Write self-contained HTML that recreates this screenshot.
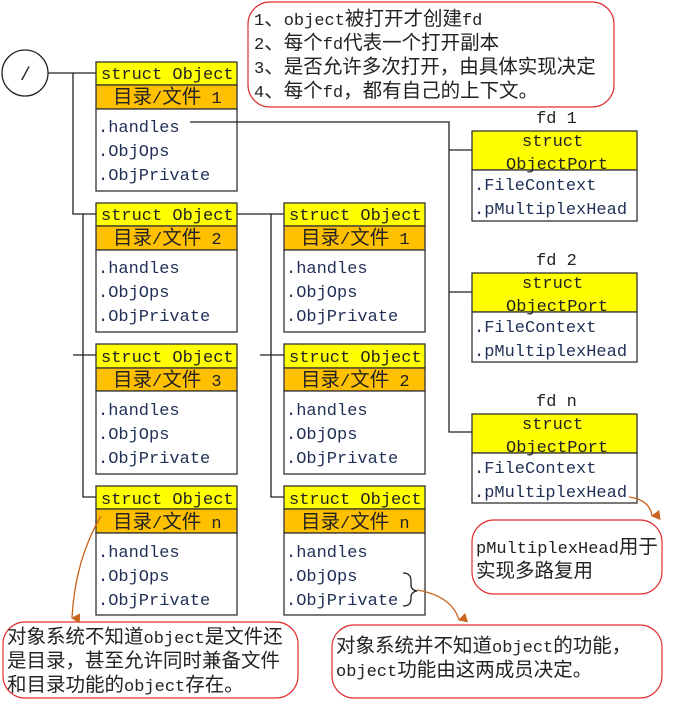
<!DOCTYPE html>
<html><head><meta charset="utf-8"><style>
body{margin:0;background:#fff}
svg text{font-family:"Liberation Mono","Noto Sans CJK SC",monospace;font-size:17px;fill:#222}
.b{fill:#1f2f55}
.z{font-size:19.5px}
.z tspan{font-size:17px}
</style></head><body>
<svg width="688" height="701" viewBox="0 0 688 701" xmlns="http://www.w3.org/2000/svg">
<defs>
<marker id="ar" markerWidth="10" markerHeight="10" refX="5" refY="8" orient="auto-start-reverse" markerUnits="userSpaceOnUse"><path d="M0,0 L10,0 L5,9 z" fill="#c8641e"/></marker>
</defs>
<g stroke="#222" stroke-width="1.3" fill="none">
<circle cx="25" cy="73" r="23"/>
<path d="M48,73 H96 M73,73 V214 H96 M83,214 V497 H96 M73,355 H96"/>
<path d="M237,214 H284 M271,214 V497 H284 M260,355 H284"/>
</g>
<text x="20" y="80" style="font-size:18px">/</text>

<g stroke="#333" stroke-width="1.3">
<rect x="96" y="62" width="141" height="23" fill="#ffff00"/><rect x="96" y="85" width="141" height="24" fill="#ffc000"/><rect x="96" y="109" width="141" height="82" fill="#fff"/>
<rect x="96" y="203" width="141" height="23" fill="#ffff00"/><rect x="96" y="226" width="141" height="24" fill="#ffc000"/><rect x="96" y="250" width="141" height="82" fill="#fff"/>
<rect x="96" y="344" width="141" height="24" fill="#ffff00"/><rect x="96" y="368" width="141" height="23" fill="#ffc000"/><rect x="96" y="391" width="141" height="83" fill="#fff"/>
<rect x="96" y="486" width="141" height="23" fill="#ffff00"/><rect x="96" y="509" width="141" height="24" fill="#ffc000"/><rect x="96" y="533" width="141" height="82" fill="#fff"/>
<rect x="284" y="203" width="141" height="23" fill="#ffff00"/><rect x="284" y="226" width="141" height="24" fill="#ffc000"/><rect x="284" y="250" width="141" height="82" fill="#fff"/>
<rect x="284" y="344" width="141" height="24" fill="#ffff00"/><rect x="284" y="368" width="141" height="23" fill="#ffc000"/><rect x="284" y="391" width="141" height="83" fill="#fff"/>
<rect x="284" y="486" width="141" height="23" fill="#ffff00"/><rect x="284" y="509" width="141" height="24" fill="#ffc000"/><rect x="284" y="533" width="141" height="82" fill="#fff"/>
<rect x="472" y="131" width="165" height="39" fill="#ffff00"/><rect x="472" y="170" width="165" height="51" fill="#fff"/>
<rect x="472" y="273" width="165" height="39" fill="#ffff00"/><rect x="472" y="312" width="165" height="50" fill="#fff"/>
<rect x="472" y="414" width="165" height="39" fill="#ffff00"/><rect x="472" y="453" width="165" height="50" fill="#fff"/>
</g>
<path d="M190,122 H449 V432 H472 M449,150 H472 M449,292 H472" stroke="#222" stroke-width="1.3" fill="none"/>

<g>
<text x="101" y="79">struct Object</text><text x="113" y="103" class="z">目录<tspan>/</tspan>文件<tspan> 1</tspan></text>
<text x="98" y="132" class="b">.handles</text><text x="98" y="156" class="b">.ObjOps</text><text x="98" y="180" class="b">.ObjPrivate</text>
<text x="101" y="220">struct Object</text><text x="113" y="244" class="z">目录<tspan>/</tspan>文件<tspan> 2</tspan></text>
<text x="98" y="273" class="b">.handles</text><text x="98" y="297" class="b">.ObjOps</text><text x="98" y="321" class="b">.ObjPrivate</text>
<text x="101" y="362">struct Object</text><text x="113" y="386" class="z">目录<tspan>/</tspan>文件<tspan> 3</tspan></text>
<text x="98" y="415" class="b">.handles</text><text x="98" y="439" class="b">.ObjOps</text><text x="98" y="463" class="b">.ObjPrivate</text>
<text x="101" y="504">struct Object</text><text x="113" y="528" class="z">目录<tspan>/</tspan>文件<tspan> n</tspan></text>
<text x="98" y="557" class="b">.handles</text><text x="98" y="581" class="b">.ObjOps</text><text x="98" y="605" class="b">.ObjPrivate</text>

<text x="289" y="220">struct Object</text><text x="301" y="244" class="z">目录<tspan>/</tspan>文件<tspan> 1</tspan></text>
<text x="286" y="273" class="b">.handles</text><text x="286" y="297" class="b">.ObjOps</text><text x="286" y="321" class="b">.ObjPrivate</text>
<text x="289" y="362">struct Object</text><text x="301" y="386" class="z">目录<tspan>/</tspan>文件<tspan> 2</tspan></text>
<text x="286" y="415" class="b">.handles</text><text x="286" y="439" class="b">.ObjOps</text><text x="286" y="463" class="b">.ObjPrivate</text>
<text x="289" y="504">struct Object</text><text x="301" y="528" class="z">目录<tspan>/</tspan>文件<tspan> n</tspan></text>
<text x="286" y="557" class="b">.handles</text><text x="286" y="581" class="b">.ObjOps</text><text x="286" y="605" class="b">.ObjPrivate</text>

<text x="536" y="123">fd 1</text>
<text x="522" y="146">struct</text><text x="506" y="169">ObjectPort</text>
<text x="474" y="190" class="b">.FileContext</text><text x="474" y="214" class="b">.pMultiplexHead</text>
<text x="536" y="265">fd 2</text>
<text x="522" y="288">struct</text><text x="506" y="311">ObjectPort</text>
<text x="474" y="332" class="b">.FileContext</text><text x="474" y="356" class="b">.pMultiplexHead</text>
<text x="536" y="406">fd n</text>
<text x="522" y="429">struct</text><text x="506" y="452">ObjectPort</text>
<text x="474" y="473" class="b">.FileContext</text><text x="474" y="497" class="b">.pMultiplexHead</text>
</g>

<path d="M403,573 q8,0 8,8 v4 q0,5 6,6 q-6,1 -6,6 v2 q0,7 -8,7" stroke="#222" stroke-width="1.3" fill="none"/>

<g stroke="#e03030" stroke-width="1.2" fill="#fff">
<rect x="248" y="2" width="366" height="105" rx="22"/>
<rect x="472" y="520" width="190" height="74" rx="22"/>
<rect x="3" y="622" width="295" height="76" rx="22"/>
<rect x="332" y="625" width="330" height="73" rx="22"/>
</g>
<g>
<text x="254" y="25" class="z"><tspan>1</tspan>、<tspan>object</tspan>被打开才创建<tspan>fd</tspan></text>
<text x="254" y="49" class="z"><tspan>2</tspan>、每个<tspan>fd</tspan>代表一个打开副本</text>
<text x="254" y="73" class="z"><tspan>3</tspan>、是否允许多次打开，由具体实现决定</text>
<text x="254" y="97" class="z"><tspan>4</tspan>、每个<tspan>fd</tspan>，都有自己的上下文。</text>
<text x="476" y="553" class="z"><tspan>pMultiplexHead</tspan>用于</text>
<text x="476" y="577" class="z">实现多路复用</text>
<text x="7" y="643" class="z">对象系统不知道<tspan>object</tspan>是文件还</text>
<text x="7" y="667" class="z">是目录，甚至允许同时兼备文件</text>
<text x="7" y="691" class="z">和目录功能的<tspan>object</tspan>存在。</text>
<text x="336" y="652" class="z">对象系统并不知道<tspan>object</tspan>的功能，</text>
<text x="336" y="676" class="z"><tspan>object</tspan>功能由这两成员决定。</text>
</g>

<g stroke="#c8641e" stroke-width="1.3" fill="none">
<path d="M629,497 Q650,500 652,516" marker-end="url(#ar)"/>
<path d="M417,590 Q452,596 459,620" marker-end="url(#ar)"/>
<path d="M101,516 Q75,560 72,618" marker-end="url(#ar)"/>
</g>
</svg>
</body></html>
